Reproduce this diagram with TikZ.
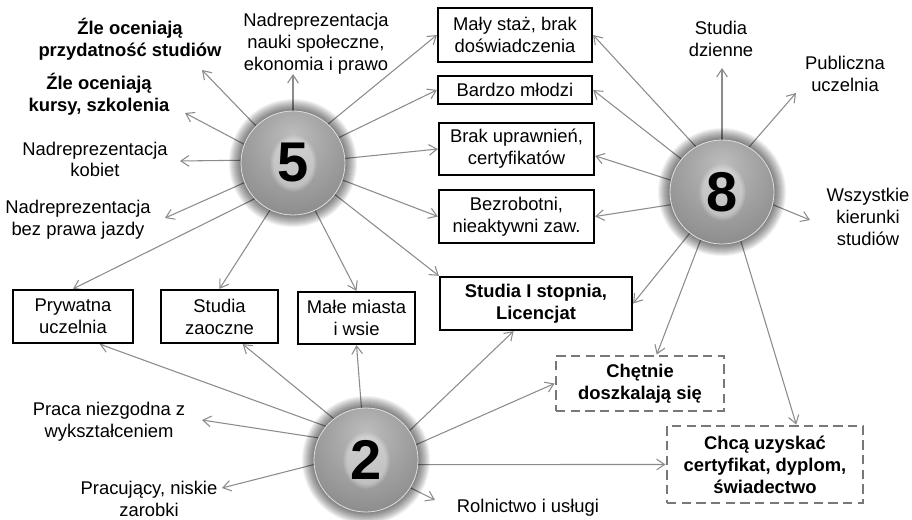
\documentclass[tikz,border=0pt]{standalone}
\usepackage{fontspec}
\setmainfont{Liberation Sans}
\usetikzlibrary{arrows.meta,fadings}
\definecolor{arrc}{gray}{0.55}
\definecolor{dashc}{gray}{0.47}
\definecolor{ballhi}{gray}{0.74}
\definecolor{ballmid}{gray}{0.58}
\definecolor{balldk}{gray}{0.38}
\pgfdeclareradialshading{ballshade}{\pgfpoint{0bp}{14bp}}{color(0bp)=(ballhi); color(28bp)=(ballmid); color(58bp)=(balldk); color(66bp)=(balldk)}
\pgfdeclarelayer{back}
\pgfdeclarelayer{halo}
\pgfsetlayers{back,halo,main}
\begin{document}
\begin{tikzpicture}[x=0.75pt,y=-0.75pt,
  txt/.style={font=\fontsize{13.8}{16.5}\selectfont},
  btxt/.style={font=\fontsize{13.8}{16.5}\selectfont\bfseries},
  lbl/.style={txt, align=center, inner sep=0pt, anchor=base},
  blbl/.style={btxt, align=center, inner sep=0pt, anchor=base},
  box/.style={txt, draw=black, line width=1.7pt, fill=white, align=center, inner sep=1pt},
  bbox/.style={box, btxt},
  dbox/.style={btxt, draw=dashc, line width=2.2pt, dash pattern=on 7pt off 4pt, fill=white, align=center, inner sep=1pt},
  ball/.style={circle, minimum size=78pt, inner sep=0pt, shade, shading=ballshade, draw=white!75!gray, line width=0.6pt},
  digit/.style={font=\fontsize{42}{42}\selectfont\bfseries, inner sep=0pt},
  arr/.style={draw=arrc, line width=0.8pt, -{Straight Barb[length=6pt,width=8pt]}}
]
\begin{pgfonlayer}{back}
\fill[white] (0,0) rectangle (912,520);
\end{pgfonlayer}
\useasboundingbox (0,0) rectangle (912,520);

% boxes
\node[box, minimum width=115.5pt, minimum height=40.5pt] (ms) at (515,35) {Mały staż, brak\\doświadczenia};
\node[box, minimum width=115.5pt, minimum height=21pt] (bm) at (515,90) {Bardzo młodzi};
\node[box, minimum width=116.25pt, minimum height=39pt] (bu) at (516.5,149) {Brak uprawnień,\\certyfikatów};
\node[box, minimum width=116.25pt, minimum height=39.75pt] (bz) at (516.5,216.5) {Bezrobotni,\\nieaktywni zaw.};
\node[bbox, minimum width=144pt, minimum height=39.75pt] (sI) at (536,303.5) {Studia I stopnia,\\Licencjat};
\node[box, minimum width=90pt, minimum height=39.75pt] (pu) at (73,316.5) {Prywatna\\uczelnia};
\node[box, minimum width=87.75pt, minimum height=39.75pt] (sz) at (219.5,316.5) {Studia\\zaoczne};
\node[box, minimum width=87.75pt, minimum height=39pt] (mm) at (356.5,318) {Małe miasta\\i wsie};
\node[dbox, minimum width=126pt, minimum height=41.25pt] (ch) at (640,383.5) {Chętnie\\doszkalają się};
\node[dbox, minimum width=147pt, minimum height=57.75pt] (cu) at (765,464.5) {Chcą uzyskać\\certyfikat, dyplom,\\świadectwo};

% free labels (anchor = baseline of last line)
\node[blbl] (zp) at (130,57) {Źle oceniają\\przydatność studiów};
\node[blbl] (zk) at (99,112) {Źle oceniają\\kursy, szkolenia};
\node[lbl] (nk) at (95,177) {Nadreprezentacja\\kobiet};
\node[lbl] (nb) at (78,235) {Nadreprezentacja\\bez prawa jazdy};
\node[lbl] (nn) at (316,71) {Nadreprezentacja\\nauki społeczne,\\ekonomia i prawo};
\node[lbl] (sd) at (721,57) {Studia\\dzienne};
\node[lbl] (pub) at (845,92) {Publiczna\\uczelnia};
\node[lbl] (wsz) at (868,245) {Wszystkie\\kierunki\\studiów};
\node[lbl] (pn) at (109,437) {Praca niezgodna z\\wykształceniem};
\node[lbl] (pr) at (149,516) {Pracujący, niskie\\zarobki};
\node[lbl] (rol) at (528,512) {Rolnictwo i usługi};

% arrow tips at free labels
\coordinate (tzp) at (202,70);
\coordinate (tzk) at (185,113);
\coordinate (tnk) at (180,161);
\coordinate (tnb) at (165,218);
\coordinate (tnn) at (293,74);
\coordinate (tsd) at (722,68);
\coordinate (tpub) at (796,93);
\coordinate (twsz) at (810,220);
\coordinate (tpn) at (202,420);
\coordinate (tpr) at (222,488);
\coordinate (trol) at (435,500);

% balls
\node[ball] (c5) at (293,163) {};
\node[ball] (c8) at (722,192) {};
\node[ball] (c2) at (366,460) {};
\foreach \c in {c5,c8,c2}{
  \fill[white, opacity=0.35, path fading=circle with fuzzy edge 20 percent] (\c) ellipse [x radius=24, y radius=29];
}
\node[digit] (d5) at (c5) {5};
\node[digit] (d8) at (c8) {8};
\node[digit] (d2) at (c2) {2};

\begin{pgfonlayer}{halo}
\foreach \c in {c5,c8,c2}{\foreach \i in {1,...,12}{\fill[black,opacity=0.05] (\c) circle[radius=52+\i];}}
\end{pgfonlayer}

\begin{pgfonlayer}{back}
% from 5
\draw[arr] (c5.135) -- (tzp);
\draw[arr] (c5.159) -- (tzk);
\draw[arr] (c5.177) -- (tnk);
\draw[arr] (c5.202) -- (tnb);
\draw[arr] (c5.223) -- (pu.north);
\draw[arr] (c5.244) -- (sz.north);
\draw[arr] (c5.295) -- (mm.north);
\draw[arr] (c5.323) -- (sI.north west);
\draw[arr] (c5.341) -- (bz.west);
\draw[arr] (c5.5) -- (bu.west);
\draw[arr] (c5.29) -- (bm.west);
\draw[arr] (c5.48) -- (ms.west);
\draw[arr] (c5.90) -- (tnn);
% from 8
\draw[arr] (c8.120) -- (ms.east);
\draw[arr] (c8.141) -- (bm.east);
\draw[arr] (c8.167) -- (bu.-5);
\draw[arr] (c8.194) -- (bz.east);
\draw[arr] (c8.232) -- (sI.east);
\draw[arr] (c8.246) -- (ch.60);
\draw[arr] (c8.291) -- (cu.52);
\draw[arr] (c8.346) -- (twsz);
\draw[arr] (c8.59) -- (tpub);
\draw[arr] (c8.90) -- (tsd);
% from 2
\draw[arr] (c2.140) -- (pu.-46);
\draw[arr] (c2.128) -- (sz.-50);
\draw[arr] (c2.95) -- (mm.south);
\draw[arr] (c2.34) -- (sI.-129);
\draw[arr] (c2.17) -- (ch.west);
\draw[arr] (c2.355) -- (cu.west);
\draw[arr] (c2.328) -- (trol);
\draw[arr] (c2.185) -- (tpr);
\draw[arr] (c2.155) -- (tpn);
\end{pgfonlayer}
\end{tikzpicture}
\end{document}
